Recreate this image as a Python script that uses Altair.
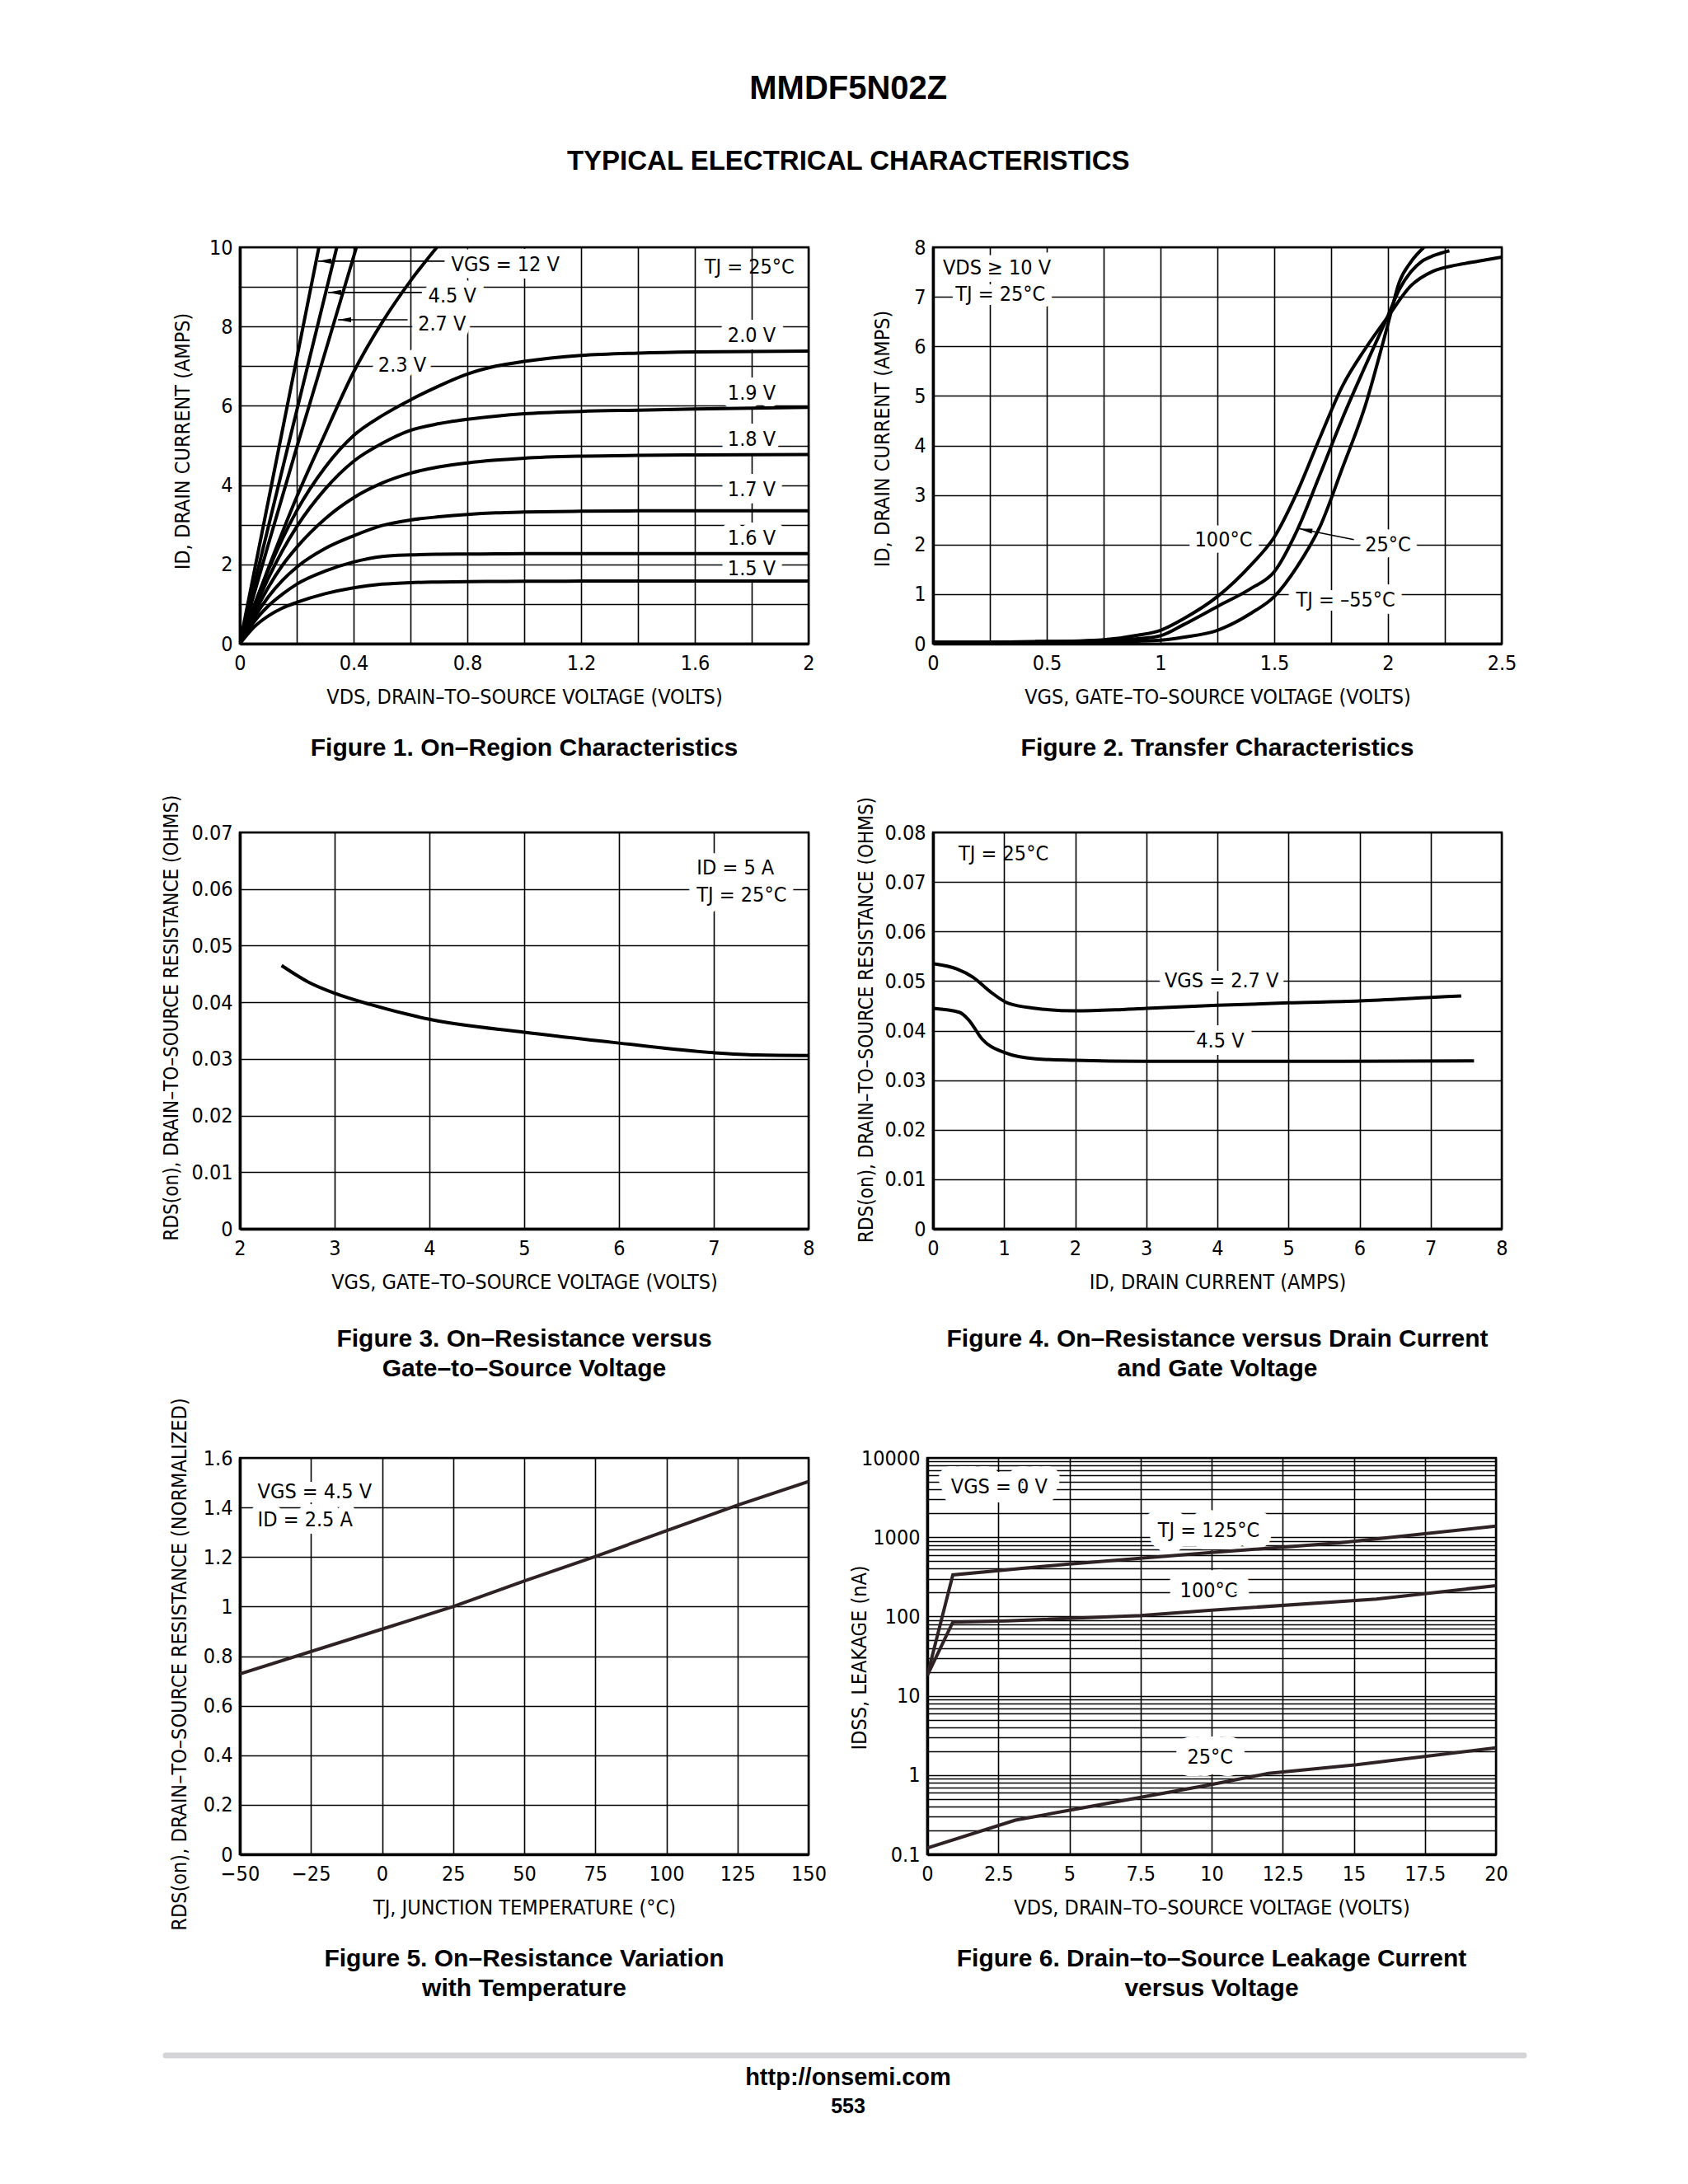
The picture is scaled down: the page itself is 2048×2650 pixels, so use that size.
import altair as alt
import pandas as pd

NARROW = "Liberation Sans Narrow, Arial Narrow, DejaVu Sans Condensed, sans-serif"
BOLD = "Liberation Sans, Arial, Helvetica, sans-serif"
BROWN = "#2e2224"
ARROW = "M-1,0L1,-0.38L1,0.38Z"
W, H = 690, 481

# ---------------- Figure 1 data (VDS in V, ID in A) ----------------
f1_vgs12_vds = [0, 0.139, 0.278]
f1_vgs12_id = [0, 5, 10]
f1_vgs45_vds = [0, 0.17, 0.341]
f1_vgs45_id = [0, 5, 10]
f1_vgs27_vds = [0, 0.1, 0.2, 0.3, 0.41]
f1_vgs27_id = [0, 2.5, 4.95, 7.35, 10]
f1_vgs23_vds = [0, 0.1, 0.2, 0.3, 0.4, 0.5, 0.6, 0.693]
f1_vgs23_id = [0, 1.9, 3.7, 5.3, 6.85, 8.1, 9.15, 10]
f1_sat_vds = [0, 0.05, 0.1, 0.15, 0.2, 0.3, 0.4, 0.5, 0.6, 0.7, 0.8, 0.9, 1.0, 1.2, 1.4, 1.6, 2.0]
f1_vgs20_id = [0, 0.95, 1.85, 2.65, 3.35, 4.45, 5.25, 5.75, 6.15, 6.5, 6.8, 7.0, 7.12, 7.27, 7.33, 7.36, 7.38]
f1_vgs19_id = [0, 0.85, 1.65, 2.35, 2.95, 3.9, 4.6, 5.05, 5.38, 5.55, 5.66, 5.74, 5.8, 5.86, 5.89, 5.92, 5.96]
f1_vgs18_id = [0, 0.75, 1.42, 1.98, 2.43, 3.15, 3.68, 4.05, 4.3, 4.46, 4.56, 4.63, 4.68, 4.73, 4.75, 4.76, 4.77]
f1_vgs17_id = [0, 0.65, 1.18, 1.6, 1.93, 2.4, 2.72, 2.98, 3.12, 3.2, 3.26, 3.3, 3.32, 3.34, 3.35, 3.35, 3.35]
f1_vgs16_id = [0, 0.55, 0.95, 1.25, 1.5, 1.83, 2.06, 2.2, 2.24, 2.255, 2.26, 2.265, 2.27, 2.27, 2.27, 2.27, 2.27]
f1_vgs15_id = [0, 0.42, 0.7, 0.9, 1.04, 1.26, 1.41, 1.5, 1.54, 1.555, 1.565, 1.57, 1.575, 1.578, 1.58, 1.58, 1.58]
f1_label_text = ["VGS = 12 V", "4.5 V", "2.7 V", "2.3 V", "2.0 V", "1.9 V", "1.8 V", "1.7 V", "1.6 V", "1.5 V"]
f1_label_x = [0.934, 0.747, 0.711, 0.571, 1.8, 1.8, 1.8, 1.8, 1.8, 1.8]
f1_label_y = [9.56, 8.77, 8.06, 7.02, 7.78, 6.31, 5.16, 3.89, 2.66, 1.9]
f1_note_text = ["TJ =  25°C"]
f1_note_x = [1.634]
f1_note_y = [9.5]
f1_lead_x1 = [0.275, 0.31, 0.345]
f1_lead_x2 = [0.72, 0.64, 0.59]
f1_lead_y = [9.65, 8.86, 8.17]
f1_head_x = [0.298, 0.333, 0.368]

# ---------------- Figure 2 data (VGS in V, ID in A) ----------------
f2_t100_vgs = [0, 0.25, 0.5, 0.75, 0.9, 1.0, 1.1, 1.25, 1.4, 1.5, 1.6, 1.7, 1.8, 1.9, 2.0, 2.1, 2.2, 2.3, 2.4, 2.5]
f2_t100_id = [0.03, 0.03, 0.04, 0.08, 0.17, 0.27, 0.5, 0.95, 1.6, 2.15, 3.05, 4.15, 5.2, 5.95, 6.6, 7.22, 7.52, 7.64, 7.72, 7.8]
f2_t25_vgs = [0, 0.25, 0.5, 0.75, 0.9, 1.0, 1.1, 1.25, 1.4, 1.5, 1.6, 1.7, 1.8, 1.9, 2.0, 2.05, 2.1, 2.15, 2.2, 2.27]
f2_t25_id = [0.03, 0.03, 0.04, 0.06, 0.1, 0.16, 0.38, 0.75, 1.12, 1.45, 2.28, 3.4, 4.55, 5.6, 6.62, 7.15, 7.5, 7.72, 7.83, 7.93]
f2_tm55_vgs = [0.45, 0.75, 0.9, 1.0, 1.1, 1.25, 1.4, 1.5, 1.6, 1.7, 1.8, 1.9, 2.0, 2.05, 2.1, 2.158]
f2_tm55_id = [0.04, 0.04, 0.05, 0.07, 0.13, 0.27, 0.62, 0.95, 1.55, 2.35, 3.55, 4.8, 6.45, 7.3, 7.7, 8.0]
f2_label_text = ["VDS ≥ 10 V", "TJ =  25°C", "100°C", "25°C", "TJ = –55°C"]
f2_label_x = [0.281, 0.296, 1.277, 2.0, 1.814]
f2_label_y = [7.59, 7.05, 2.095, 1.99, 0.886]
f2_arrow_tip = [1.61, 2.32]
f2_arrow_tail = [1.85, 2.1]
f2_head_xy = [1.638, 2.294]

# ---------------- Figure 3 data ----------------
f3_vgs = [2.44, 2.72, 3.0, 3.38, 4.0, 5.0, 6.0, 7.0, 7.45, 8.0]
f3_rds = [0.0465, 0.0436, 0.0416, 0.0396, 0.0370, 0.0347, 0.0328, 0.0311, 0.0307, 0.0306]
f3_label_text = ["ID = 5 A", "TJ = 25°C"]
f3_label_x = [6.82, 6.82]
f3_label_y = [0.0637, 0.059]

# ---------------- Figure 4 data ----------------
f4_vgs27_id = [0, 0.34, 0.56, 0.81, 1.06, 1.44, 2.0, 2.56, 3.0, 4.0, 5.0, 6.0, 7.0, 7.43]
f4_vgs27_rds = [0.0535, 0.0524, 0.0508, 0.0478, 0.0455, 0.0445, 0.0440, 0.0442, 0.0445, 0.0451, 0.0456, 0.0460, 0.0467, 0.0470]
f4_vgs45_id = [0, 0.37, 0.5, 0.69, 1.0, 1.44, 2.0, 3.0, 5.0, 7.61]
f4_vgs45_rds = [0.0445, 0.0437, 0.0422, 0.0383, 0.0356, 0.0343, 0.0340, 0.0338, 0.0338, 0.0339]
f4_label_text = ["VGS = 2.7 V", "4.5 V"]
f4_label_x = [4.06, 4.04]
f4_label_y = [0.0501, 0.0379]
f4_note_text = ["TJ =  25°C"]
f4_note_x = [0.36]
f4_note_y = [0.0757]

# ---------------- Figure 5 data ----------------
f5_tj = [-50, 0, 25, 50, 75, 100, 125, 150]
f5_rnorm = [0.728, 0.909, 1.0, 1.103, 1.202, 1.306, 1.409, 1.505]
f5_label_text = ["VGS = 4.5 V", "ID = 2.5 A"]
f5_label_x = [-43.75, -43.75]
f5_label_y = [1.462, 1.35]

# ---------------- Figure 6 data (IDSS in nA) ----------------
f6_t125_vds = [0, 0.9, 5, 10, 14.5, 20]
f6_t125_idss = [18, 335, 460, 640, 850, 1380]
f6_t100_vds = [0, 0.9, 2.8, 7.5, 10, 15.8, 20]
f6_t100_idss = [18, 85, 88, 103, 120, 166, 245]
f6_t25_vds = [0, 3.1, 5, 10, 12, 15.1, 20]
f6_t25_idss = [0.12, 0.27, 0.36, 0.76, 1.05, 1.35, 2.2]
f6_label_text = ["VGS = 0 V", "TJ = 125°C", "100°C", "25°C"]
f6_label_x = [2.53, 9.9, 9.9, 9.95]
f6_label_y = [4300, 1230, 210, 1.67]

# ---------------- axis grids / tick labels ----------------
f1_xgrid = [round(i * 0.2, 2) for i in range(11)]
f1_ygrid = list(range(11))
f2_xgrid = [round(i * 0.25, 2) for i in range(11)]
f2_ygrid = list(range(9))
f3_xgrid = list(range(2, 9))
f3_ygrid = [round(i * 0.01, 2) for i in range(8)]
f4_xgrid = list(range(9))
f4_ygrid = [round(i * 0.01, 2) for i in range(9)]
f5_xgrid = list(range(-50, 151, 25))
f5_ygrid = [round(i * 0.2, 1) for i in range(9)]
f6_xgrid = [round(i * 2.5, 1) for i in range(9)]
f6_ygrid = [round(d * 10 ** e, 6) for e in range(-1, 4) for d in range(1, 10)] + [10000]


def curves_df(series):
    rows = []
    for name, xs, ys in series:
        for a, b in zip(xs, ys):
            rows.append({"x": a, "y": b, "curve": name})
    return pd.DataFrame(rows)


def text_df(texts, xs, ys):
    return pd.DataFrame({"x": xs, "y": ys, "text": texts})


def xaxis(title, values, expr):
    return alt.Axis(title=title, values=values, labelExpr=expr, titleX=W / 2, titleY=72,
                    titleBaseline="alphabetic", titleAlign="center", labelPadding=11)


def yaxis(title, values, expr, tx, ty, tsize=25):
    return alt.Axis(title=title, values=values, labelExpr=expr, titleX=tx, titleY=ty,
                    titleBaseline="alphabetic", titleAlign="center", titleAngle=270,
                    titleFontSize=tsize, labelPadding=9)


def text_layers(df, X, Y, align="center", halo=True, size=25, halo_width=18):
    base = alt.Chart(df).encode(x=X, y=Y, text="text:N")
    out = []
    if halo:
        out.append(base.mark_text(font=NARROW, fontSize=size, align=align, baseline="middle",
                                  color="white", stroke="white", strokeWidth=halo_width,
                                  strokeJoin="round"))
    txt = base.mark_text(font=NARROW, fontSize=size, align=align, baseline="middle", color="black")
    return out, txt


def caption(lines, offset):
    return alt.Title(lines, orient="bottom", frame="group", anchor="middle", offset=offset,
                     baseline="top", font=BOLD, fontSize=30, fontWeight="bold",
                     lineHeight=36, color="black")


# ================= Figure 1 =================
X1 = alt.X("x:Q", scale=alt.Scale(domain=[0, 2], nice=False, zero=False),
           axis=xaxis("VDS, DRAIN–TO–SOURCE VOLTAGE (VOLTS)", f1_xgrid,
                      "round(datum.value * 10) % 4 == 0 ? format(datum.value, '~g') : ''"))
Y1 = alt.Y("y:Q", scale=alt.Scale(domain=[0, 10], nice=False),
           axis=yaxis("ID, DRAIN CURRENT (AMPS)", f1_ygrid,
                      "datum.value % 2 == 0 ? format(datum.value, '~g') : ''", -62, 235))
f1_df = curves_df([
    ("12 V", f1_vgs12_vds, f1_vgs12_id), ("4.5 V", f1_vgs45_vds, f1_vgs45_id),
    ("2.7 V", f1_vgs27_vds, f1_vgs27_id), ("2.3 V", f1_vgs23_vds, f1_vgs23_id),
    ("2.0 V", f1_sat_vds, f1_vgs20_id), ("1.9 V", f1_sat_vds, f1_vgs19_id),
    ("1.8 V", f1_sat_vds, f1_vgs18_id), ("1.7 V", f1_sat_vds, f1_vgs17_id),
    ("1.6 V", f1_sat_vds, f1_vgs16_id), ("1.5 V", f1_sat_vds, f1_vgs15_id)])
f1_curves = alt.Chart(f1_df).mark_line(color="black", strokeWidth=4, interpolate="monotone",
                                       clip=True).encode(x=X1, y=Y1, detail="curve:N")
f1_lead_df = pd.DataFrame({"x": f1_lead_x1, "x2": f1_lead_x2, "y": f1_lead_y})
f1_leads = alt.Chart(f1_lead_df).mark_rule(color="black", strokeWidth=1.6).encode(
    x=X1, x2="x2:Q", y=Y1)
f1_head_df = pd.DataFrame({"x": f1_head_x, "y": f1_lead_y})
f1_heads = alt.Chart(f1_head_df).mark_point(shape=ARROW, filled=True, size=260,
                                            color="black", opacity=1).encode(x=X1, y=Y1)
h1, t1 = text_layers(text_df(f1_label_text, f1_label_x, f1_label_y), X1, Y1)
_, n1 = text_layers(text_df(f1_note_text, f1_note_x, f1_note_y), X1, Y1, align="left", halo=False)
fig1 = alt.layer(*h1, f1_curves, f1_leads, f1_heads, t1, n1).properties(
    width=W, height=H, title=caption(["Figure 1. On–Region Characteristics"], 35))

# ================= Figure 2 =================
X2 = alt.X("x:Q", scale=alt.Scale(domain=[0, 2.5], nice=False, zero=False),
           axis=xaxis("VGS, GATE–TO–SOURCE VOLTAGE (VOLTS)", f2_xgrid,
                      "round(datum.value * 4) % 2 == 0 ? format(datum.value, '~g') : ''"))
Y2 = alt.Y("y:Q", scale=alt.Scale(domain=[0, 8], nice=False),
           axis=yaxis("ID, DRAIN CURRENT (AMPS)", f2_ygrid, "format(datum.value, '~g')", -54, 232))
f2_df = curves_df([("100°C", f2_t100_vgs, f2_t100_id), ("25°C", f2_t25_vgs, f2_t25_id),
                   ("-55°C", f2_tm55_vgs, f2_tm55_id)])
f2_curves = alt.Chart(f2_df).mark_line(color="black", strokeWidth=4, interpolate="monotone",
                                       clip=True).encode(x=X2, y=Y2, detail="curve:N")
f2_arrow_df = pd.DataFrame({"x": [f2_arrow_tip[0]], "y": [f2_arrow_tip[1]],
                            "x2": [f2_arrow_tail[0]], "y2": [f2_arrow_tail[1]]})
f2_arrow = alt.Chart(f2_arrow_df).mark_rule(color="black", strokeWidth=1.6).encode(
    x=X2, y=Y2, x2="x2:Q", y2="y2:Q")
f2_head_df = pd.DataFrame({"x": [f2_head_xy[0]], "y": [f2_head_xy[1]]})
f2_head = alt.Chart(f2_head_df).mark_point(shape=ARROW, filled=True, size=260,
                                           color="black", opacity=1, angle=11).encode(x=X2, y=Y2)
h2, t2 = text_layers(text_df(f2_label_text, f2_label_x, f2_label_y), X2, Y2)
fig2 = alt.layer(*h2, f2_curves, f2_arrow, f2_head, t2).properties(
    width=W, height=H, title=caption(["Figure 2. Transfer Characteristics"], 35))

# ================= Figure 3 =================
X3 = alt.X("x:Q", scale=alt.Scale(domain=[2, 8], nice=False, zero=False),
           axis=xaxis("VGS, GATE–TO–SOURCE VOLTAGE (VOLTS)", f3_xgrid, "format(datum.value, '~g')"))
Y3 = alt.Y("y:Q", scale=alt.Scale(domain=[0, 0.07], nice=False),
           axis=yaxis("RDS(on), DRAIN–TO–SOURCE RESISTANCE (OHMS)", f3_ygrid,
                      "datum.value == 0 ? '0' : format(datum.value, '.2f')", -76, 224.5, 24))
f3_df = curves_df([("rds", f3_vgs, f3_rds)])
f3_curve = alt.Chart(f3_df).mark_line(color="black", strokeWidth=4, interpolate="monotone",
                                      clip=True).encode(x=X3, y=Y3)
h3, t3 = text_layers(text_df(f3_label_text, f3_label_x, f3_label_y), X3, Y3, align="left")
fig3 = alt.layer(*h3, f3_curve, t3).properties(
    width=W, height=H,
    title=caption(["Figure 3. On–Resistance versus", "Gate–to–Source Voltage"], 42))

# ================= Figure 4 =================
X4 = alt.X("x:Q", scale=alt.Scale(domain=[0, 8], nice=False, zero=False),
           axis=xaxis("ID, DRAIN CURRENT (AMPS)", f4_xgrid, "format(datum.value, '~g')"))
Y4 = alt.Y("y:Q", scale=alt.Scale(domain=[0, 0.08], nice=False),
           axis=yaxis("RDS(on), DRAIN–TO–SOURCE RESISTANCE (OHMS)", f4_ygrid,
                      "datum.value == 0 ? '0' : format(datum.value, '.2f')", -74, 227, 24))
f4_df = curves_df([("2.7 V", f4_vgs27_id, f4_vgs27_rds), ("4.5 V", f4_vgs45_id, f4_vgs45_rds)])
f4_curves = alt.Chart(f4_df).mark_line(color="black", strokeWidth=4, interpolate="monotone",
                                       clip=True).encode(x=X4, y=Y4, detail="curve:N")
h4, t4 = text_layers(text_df(f4_label_text, f4_label_x, f4_label_y), X4, Y4)
_, n4 = text_layers(text_df(f4_note_text, f4_note_x, f4_note_y), X4, Y4, align="left", halo=False)
fig4 = alt.layer(*h4, f4_curves, t4, n4).properties(
    width=W, height=H,
    title=caption(["Figure 4. On–Resistance versus Drain Current", "and Gate Voltage"], 42))

# ================= Figure 5 =================
X5 = alt.X("x:Q", scale=alt.Scale(domain=[-50, 150], nice=False, zero=False),
           axis=xaxis("TJ, JUNCTION TEMPERATURE (°C)", f5_xgrid, "format(datum.value, '~g')"))
Y5 = alt.Y("y:Q", scale=alt.Scale(domain=[0, 1.6], nice=False),
           axis=yaxis("RDS(on), DRAIN–TO–SOURCE RESISTANCE (NORMALIZED)", f5_ygrid,
                      "format(datum.value, '~g')", -66, 250))
f5_df = curves_df([("r", f5_tj, f5_rnorm)])
f5_line = alt.Chart(f5_df).mark_line(color=BROWN, strokeWidth=4, clip=True).encode(x=X5, y=Y5)
h5, t5 = text_layers(text_df(f5_label_text, f5_label_x, f5_label_y), X5, Y5, align="left")
fig5 = alt.layer(*h5, f5_line, t5).properties(
    width=W, height=H,
    title=caption(["Figure 5. On–Resistance Variation", "with Temperature"], 20))

# ================= Figure 6 =================
X6 = alt.X("x:Q", scale=alt.Scale(domain=[0, 20], nice=False, zero=False),
           axis=xaxis("VDS, DRAIN–TO–SOURCE VOLTAGE (VOLTS)", f6_xgrid, "format(datum.value, '~g')"))
Y6 = alt.Y("y:Q", scale=alt.Scale(type="log", domain=[0.1, 10000], nice=False),
           axis=yaxis("IDSS, LEAKAGE (nA)", f6_ygrid,
                      "abs(log(datum.value) / LN10 - round(log(datum.value) / LN10)) < 0.001 ? format(datum.value, '~g') : ''",
                      -75, 242))
f6_df = curves_df([("125°C", f6_t125_vds, f6_t125_idss), ("100°C", f6_t100_vds, f6_t100_idss),
                   ("25°C", f6_t25_vds, f6_t25_idss)])
f6_lines = alt.Chart(f6_df).mark_line(color=BROWN, strokeWidth=4, clip=True).encode(
    x=X6, y=Y6, detail="curve:N")
h6, t6 = text_layers(text_df(f6_label_text, f6_label_x, f6_label_y), X6, Y6, halo_width=30)
fig6 = alt.layer(*h6, f6_lines, t6).properties(
    width=W, height=H,
    title=caption(["Figure 6. Drain–to–Source Leakage Current", "versus Voltage"], 35))

# ================= footer =================
footer_rule = alt.Chart(pd.DataFrame({"k": [0]})).mark_rule(
    color="#d4d4d8", strokeWidth=7, strokeCap="round").encode(
    x=alt.value(-90), x2=alt.value(1558), y=alt.value(4))
footer_url = alt.Chart(pd.DataFrame({"t": ["http://onsemi.com"]})).mark_text(
    font=BOLD, fontSize=29, fontWeight="bold", color="black", baseline="middle").encode(
    x=alt.value(738), y=alt.value(31), text="t:N")
footer_page = alt.Chart(pd.DataFrame({"t": ["553"]})).mark_text(
    font=BOLD, fontSize=25, fontWeight="bold", color="black", baseline="middle").encode(
    x=alt.value(738), y=alt.value(66), text="t:N")
footer = alt.layer(footer_rule, footer_url, footer_page).properties(
    width=1470, height=80, view=alt.ViewBackground(stroke="transparent"))

row1 = alt.hconcat(fig1, fig2, spacing=151, bounds="flush")
row2 = alt.hconcat(fig3, fig4, spacing=151, bounds="flush")
row3 = alt.hconcat(fig5, fig6, spacing=144, bounds="flush")

rows12 = alt.vconcat(row1, row2, spacing=37)
rows123 = alt.vconcat(rows12, row3, spacing=16)
page = alt.vconcat(rows123, footer, spacing=58).properties(
    title=alt.Title("MMDF5N02Z", subtitle="TYPICAL ELECTRICAL CHARACTERISTICS",
                    anchor="middle", font=BOLD, fontSize=40, fontWeight="bold", color="black",
                    subtitleFont=BOLD, subtitleFontSize=33, subtitleFontWeight="bold",
                    subtitleColor="black", subtitlePadding=52, offset=74, dx=5),
    padding={"left": 186, "top": 79, "right": 10, "bottom": 10},
).configure_axis(
    domainColor="black", domainWidth=3.5, grid=True, gridColor="black", gridWidth=1.6,
    gridOpacity=1, ticks=False, tickSize=0, labelFont=NARROW, labelFontSize=25,
    labelColor="black", titleFont=NARROW, titleFontSize=25, titleFontWeight="normal",
    titleColor="black", labelOverlap=False, labelFlush=False,
).configure_view(stroke="black", strokeWidth=2.5)

page.save("out.html", embed_options={"renderer": "svg", "actions": False})
